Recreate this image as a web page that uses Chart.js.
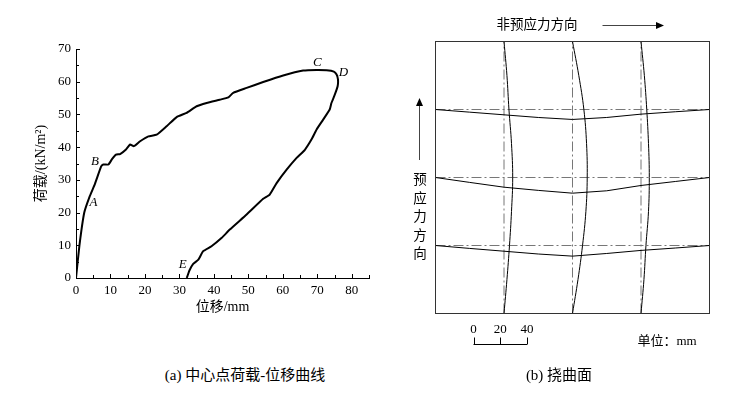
<!DOCTYPE html>
<html lang="zh">
<head>
  <meta charset="UTF-8">
  <title>中心点荷载-位移曲线与挠曲面</title>
  <script src="https://cdn.jsdelivr.net/npm/chart.js"></script>
  <style>
    body {
      margin: 0;
      width: 742px;
      height: 394px;
      background: #fff;
      position: relative;
      overflow: hidden;
      font-family: "Liberation Serif", "Noto Sans CJK SC", serif;
      color: #000;
    }

    canvas {
      position: absolute;
    }

    #curve {
      left: 30px;
      top: 30px;
    }

    #surface {
      left: 400px;
      top: 0;
    }

    .txt {
      position: absolute;
      white-space: nowrap;
      line-height: 1;
      transform: translate(-50%, -50%);
    }

    .vtxt {
      position: absolute;
      left: 413px;
      top: 171px;
      width: 14px;
      font-size: 13.5px;
      line-height: 18.5px;
      text-align: center;
    }
  </style>
</head>
<body>

  <canvas id="curve" width="355" height="288"></canvas>
  <canvas id="surface" width="342" height="394"></canvas>

  <div class="txt" style="left:537px; top:25px; font-size:13.5px;">非预应力方向</div>
  <div class="vtxt">预<br>应<br>力<br>方<br>向</div>
  <div class="txt" style="left:667px; top:340px; font-size:13px;">单位：mm</div>
  <div class="txt" style="left:245px; top:375px; font-size:15px;">(a) 中心点荷载-位移曲线</div>
  <div class="txt" style="left:559px; top:375px; font-size:15px;">(b) 挠曲面</div>

  <script>
    // (a) 中心点荷载-位移曲线
    const dispX = [0, 1, 2.4, 4, 5.5, 7.3, 7.9, 9.4, 10.5, 11.6, 12.8, 14.5, 15.7, 16.8, 18.6, 21, 23.4,
      26.3, 29.2, 32.1, 35, 37.9, 41.7, 44.2, 45.6, 49.5, 54.3, 60.1, 65.9, 69.8, 72.7, 74.8, 75.6, 76,
      75.9, 75.1, 74.1, 73.6, 71.7, 69.8, 68.3, 66.4, 64, 61.1, 58.2, 56.2, 54.3, 49.5, 44.6, 42.2,
      39.3, 36.9, 35.5, 34, 32.9, 32.3, 32.1];
    const loadY = [0, 10, 20, 25, 28.8, 34.1, 34.7, 34.7, 36.4, 37.7, 37.9, 39.3, 40.8, 40.3, 41.8, 43.3, 43.8,
      46.4, 49.2, 50.5, 52.5, 53.5, 54.5, 55.2, 56.6, 58.1, 59.9, 61.9, 63.4, 63.6, 63.5, 63.1, 62.2, 60.7,
      58.6, 56.1, 53.5, 51.5, 48.4, 45.4, 42.3, 39.2, 36.7, 33.1, 29, 25.5, 24.2, 19.4, 14.8, 12.2,
      9.7, 8.2, 5.6, 4.3, 2.3, 0.5, 0];
    const xTicks = [0, 10, 20, 30, 40, 50, 60, 70, 80];
    const yTicks = [0, 10, 20, 30, 40, 50, 60, 70];
    const keyNames = ['A', 'B', 'C', 'D', 'E'];
    const keyX = [4.2, 7.5, 70, 75.3, 32.1];
    const keyY = [25, 34.3, 63.6, 63, 0];

    // (b) 挠曲面 — 网格位置与各截面挠度 (mm)
    const gridPos = [1, 2, 3];
    const stations = [0, 0.5, 1, 1.5, 2, 2.5, 3, 3.5, 4];
    const deflV1 = [0, 2.2, 4.1, 5.6, 6.5, 5.6, 3.7, 2.2, 0];
    const deflV2 = [0, 4.1, 7.5, 10, 11, 10.5, 8.5, 4.7, 0];
    const deflV3 = [0, 2.2, 3.7, 5.6, 6.2, 5.6, 4.3, 2.5, 0];
    const deflH1 = [0, 2.2, 4.3, 6.4, 8, 6, 3.7, 1.9, 0];
    const deflH2 = [0, 3.7, 7.3, 9.7, 11.8, 10, 6, 3, 0];
    const deflH3 = [0, 2, 4, 6, 7.5, 6, 3.5, 1.7, 0];
    const scaleMarks = [0, 20, 40];
    const mmPerGrid = 51.2;

    const serif = '"Liberation Serif", "Noto Sans CJK SC", serif';

    const innerTicks = {
      id: 'innerTicks',
      afterDraw(chart) {
        const { ctx, chartArea: a, scales: { x, y } } = chart;
        ctx.save();
        ctx.strokeStyle = '#000';
        ctx.lineWidth = 1;
        ctx.beginPath();
        x.ticks.forEach(t => {
          const px = Math.round(x.getPixelForValue(t.value)) + 0.5;
          const len = t.value % 10 === 0 ? 4 : 3;
          ctx.moveTo(px, a.bottom);
          ctx.lineTo(px, a.bottom - len);
        });
        y.ticks.forEach(t => {
          const py = Math.round(y.getPixelForValue(t.value)) + 0.5;
          const len = t.value % 10 === 0 ? 4 : 3;
          ctx.moveTo(a.left, py);
          ctx.lineTo(a.left + len, py);
        });
        ctx.stroke();
        ctx.restore();
      }
    };

    const keyLabels = {
      id: 'keyLabels',
      afterDraw(chart) {
        const { ctx, scales: { x, y } } = chart;
        const off = [[3, 6], [-7, -4], [0, -7], [8, 1], [-4, -13]];
        ctx.save();
        ctx.font = 'italic 13px ' + serif;
        ctx.fillStyle = '#000';
        ctx.textAlign = 'center';
        ctx.textBaseline = 'middle';
        keyNames.forEach((n, i) => {
          ctx.fillText(n, x.getPixelForValue(keyX[i]) + off[i][0], y.getPixelForValue(keyY[i]) + off[i][1]);
        });
        ctx.restore();
      }
    };

    new Chart(document.getElementById('curve'), {
      type: 'scatter',
      data: {
        datasets: [{
          data: dispX.map((x, i) => ({ x: x, y: loadY[i] })),
          showLine: true,
          borderColor: '#000',
          borderWidth: 2,
          pointRadius: 0,
          tension: 0.15,
          fill: false
        }]
      },
      options: {
        responsive: false,
        animation: false,
        devicePixelRatio: 1,
        layout: { padding: { top: 19, right: 16, left: 0, bottom: 0 } },
        plugins: { legend: { display: false }, tooltip: { enabled: false } },
        scales: {
          x: {
            type: 'linear',
            min: 0,
            max: 85,
            afterFit(s) { s.height = 40; },
            grid: { display: false, drawTicks: false },
            border: { display: true, color: '#000', width: 1 },
            ticks: {
              stepSize: 5,
              autoSkip: false,
              maxRotation: 0,
              padding: 5,
              color: '#000',
              font: { family: serif, size: 13 },
              callback: v => xTicks.includes(v) ? String(v) : ''
            },
            title: {
              display: true,
              text: '位移/mm',
              color: '#000',
              font: { family: serif, size: 14 },
              padding: { top: 0, bottom: 2 }
            }
          },
          y: {
            type: 'linear',
            min: 0,
            max: 70,
            afterFit(s) { s.width = 46; },
            grid: { display: false, drawTicks: false },
            border: { display: true, color: '#000', width: 1 },
            ticks: {
              stepSize: 5,
              autoSkip: false,
              padding: 5,
              color: '#000',
              font: { family: serif, size: 13 },
              callback: v => yTicks.includes(v) ? String(v) : ''
            },
            title: {
              display: true,
              text: '荷载/(kN/m²)',
              color: '#000',
              font: { family: serif, size: 14 },
              padding: { top: 3, bottom: 0 }
            }
          }
        }
      },
      plugins: [innerTicks, keyLabels]
    });

    // (b) 挠曲面
    const curveSets = [];
    [deflV1, deflV2, deflV3].forEach((d, k) => {
      curveSets.push({
        data: stations.map((s, i) => ({ x: gridPos[k] + d[i] / mmPerGrid, y: s })),
        tension: 0.4
      });
    });
    [deflH1, deflH2, deflH3].forEach((d, k) => {
      curveSets.push({
        data: stations.map((s, i) => ({ x: s, y: gridPos[k] - d[i] / mmPerGrid })),
        tension: 0
      });
    });
    const gridSets = [];
    gridPos.forEach(g => {
      gridSets.push({ data: [{ x: g, y: 0 }, { x: g, y: 4 }] });
      gridSets.push({ data: [{ x: 0, y: g }, { x: 4, y: g }] });
    });

    const surfaceDatasets = curveSets.map(c => ({
      data: c.data, showLine: true, borderColor: '#000', borderWidth: 1, pointRadius: 0, tension: c.tension, fill: false
    })).concat(gridSets.map(g => ({
      data: g.data, showLine: true, borderColor: '#777', borderWidth: 1, borderDash: [10, 3, 2, 3], pointRadius: 0, fill: false
    })));

    const surfaceDecor = {
      id: 'surfaceDecor',
      afterDraw(chart) {
        const { ctx, chartArea: a, scales: { x } } = chart;
        ctx.save();
        // 外框
        ctx.strokeStyle = '#333';
        ctx.lineWidth = 1;
        ctx.strokeRect(a.left, a.top, a.right - a.left, a.bottom - a.top);

        // 方向箭头
        ctx.strokeStyle = '#444';
        ctx.fillStyle = '#000';
        ctx.beginPath();
        ctx.moveTo(202.5, 25.5);
        ctx.lineTo(258, 25.5);
        ctx.moveTo(19.5, 160);
        ctx.lineTo(19.5, 104);
        ctx.stroke();
        ctx.beginPath();
        ctx.moveTo(264, 25.5);
        ctx.lineTo(256, 22);
        ctx.lineTo(256, 29);
        ctx.closePath();
        ctx.moveTo(19.5, 98);
        ctx.lineTo(16, 106);
        ctx.lineTo(23, 106);
        ctx.closePath();
        ctx.fill();

        // 比例尺
        const pxPerMm = (x.getPixelForValue(1) - x.getPixelForValue(0)) / mmPerGrid;
        const x0 = a.left + 38;
        const yBar = 344.5;
        const last = scaleMarks[scaleMarks.length - 1];
        ctx.strokeStyle = '#000';
        ctx.beginPath();
        ctx.moveTo(x0, yBar);
        ctx.lineTo(x0 + last * pxPerMm, yBar);
        scaleMarks.forEach(m => {
          const px = Math.round(x0 + m * pxPerMm) + 0.5;
          ctx.moveTo(px, yBar);
          ctx.lineTo(px, yBar - 7);
        });
        ctx.stroke();
        ctx.font = '13px ' + serif;
        ctx.textAlign = 'center';
        ctx.textBaseline = 'middle';
        scaleMarks.forEach(m => ctx.fillText(String(m), x0 + m * pxPerMm, 330));
        ctx.restore();
      }
    };

    new Chart(document.getElementById('surface'), {
      type: 'scatter',
      data: { datasets: surfaceDatasets },
      options: {
        responsive: false,
        animation: false,
        devicePixelRatio: 1,
        layout: { padding: { left: 35.5, top: 41.5, right: 32.5, bottom: 80.5 } },
        plugins: { legend: { display: false }, tooltip: { enabled: false } },
        scales: {
          x: { type: 'linear', min: 0, max: 4, display: false },
          y: { type: 'linear', min: 0, max: 4, display: false }
        }
      },
      plugins: [surfaceDecor]
    });
  </script>

</body>
</html>
